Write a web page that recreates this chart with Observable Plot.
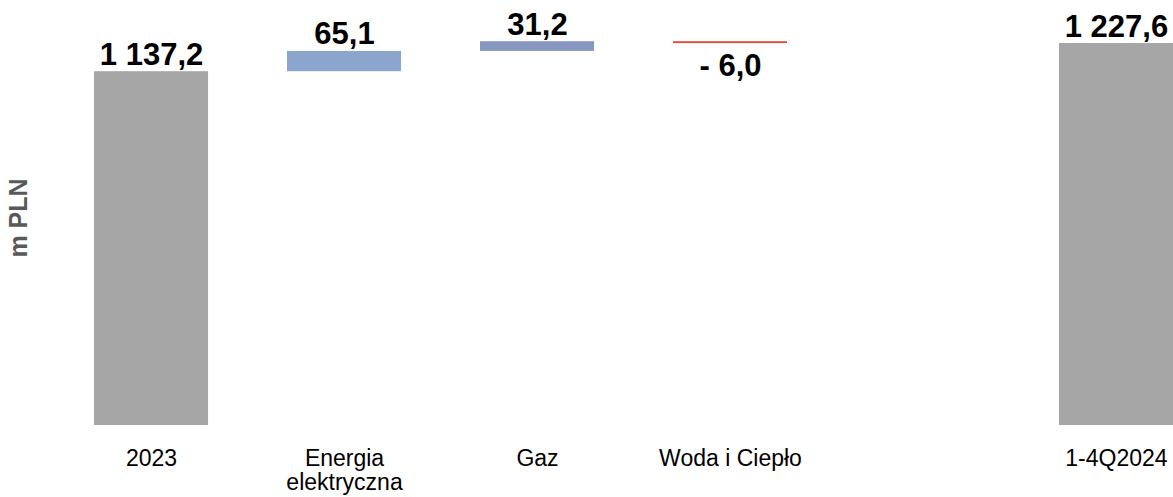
<!DOCTYPE html>
<html><head><meta charset="utf-8">
<script src="https://cdn.jsdelivr.net/npm/d3@7"></script>
<script src="https://cdn.jsdelivr.net/npm/@observablehq/plot@0.6"></script>
<style>html,body{margin:0;padding:0;background:#fff;} svg{display:block}</style>
</head><body><div id="chart"></div>
<script>
const categories = ["2023", "Energia\nelektryczna", "Gaz", "Woda i Ciepło", "", "1-4Q2024"];
const values = [1137.2, 65.1, 31.2, -6.0, null, 1227.6];
const kinds = ["total", "delta", "delta", "delta", "blank", "total"];
const colors = ["#A6A6A6", "#8BA5CD", "#8797C1", "#E8483A", null, "#A6A6A6"];
const yLabel = "m PLN";

let run = 0;
const rows = [];
categories.forEach((c, i) => {
  const v = values[i], k = kinds[i];
  if (k === "blank") return;
  let y1, y2;
  if (k === "total") { y1 = 0; y2 = v; run = v; }
  else { y1 = run; y2 = run + v; run = y2; }
  rows.push({cat: c, value: v, y1, y2, top: Math.max(y1, y2), bottom: Math.min(y1, y2), color: colors[i], neg: v < 0});
});

const loc = d3.formatLocale({decimal: ",", thousands: " ", grouping: [3], currency: ["", ""], minus: "- "});
const fmt = loc.format(",.1f");
const font = "Liberation Sans, Arial, sans-serif";

const chart = Plot.plot({
  width: 1173, height: 497,
  marginLeft: 94, marginRight: 0, marginTop: 0, marginBottom: 72,
  x: {domain: categories, paddingInner: 0.409, paddingOuter: 0, round: false, axis: null},
  y: {domain: [0, 1366], axis: null},
  color: {type: "identity"},
  style: {fontFamily: font, background: "#fff", color: "#000"},
  marks: [
    Plot.barY(rows, {x: "cat", y1: "y1", y2: "y2", fill: "color"}),
    Plot.text(rows.filter(d => !d.neg), {x: "cat", y: "top", text: d => fmt(d.value), lineAnchor: "bottom", dy: -7, fontSize: 31, fontWeight: "bold", fill: "#000"}),
    Plot.text(rows.filter(d => d.neg), {x: "cat", y: "bottom", text: d => fmt(d.value), lineAnchor: "top", dy: 10, fontSize: 31, fontWeight: "bold", fill: "#000"}),
    Plot.text(categories, {x: d => d, text: d => d, frameAnchor: "bottom", lineAnchor: "top", dy: 23, fontSize: 23, lineHeight: 1.05, fill: "#000"}),
    Plot.text([yLabel], {frameAnchor: "left", textAnchor: "middle", dx: -76, dy: 5, rotate: -90, fontSize: 25, fontWeight: "bold", fill: "#595959"})
  ]
});
document.getElementById("chart").appendChild(chart);
</script>
</body></html>
